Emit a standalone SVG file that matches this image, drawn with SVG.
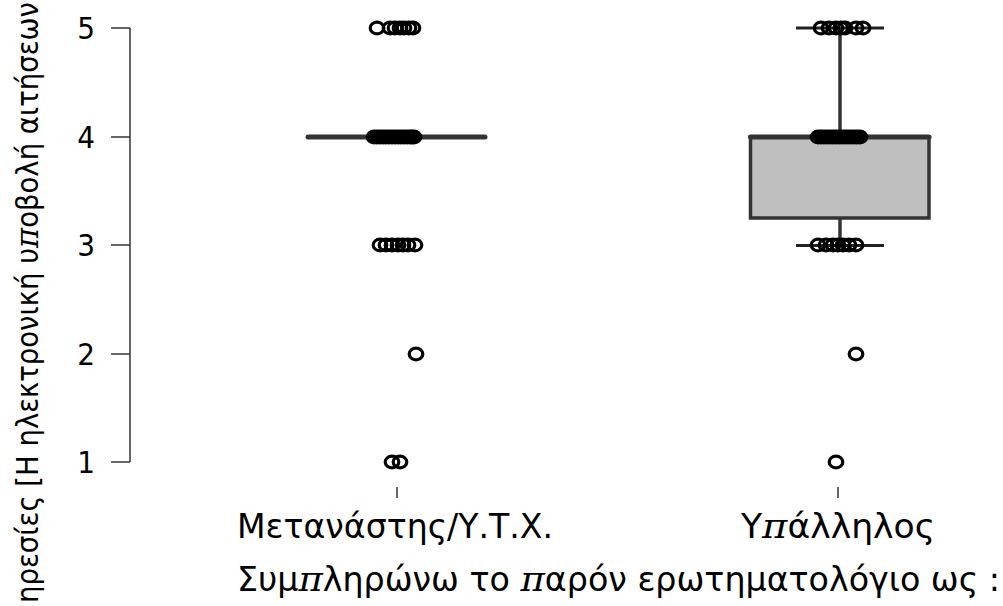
<svg xmlns="http://www.w3.org/2000/svg" width="1003" height="606" viewBox="0 0 1003 606">
<style>
.ax{stroke:#333;stroke-width:1.5;fill:none}
.wh{stroke:#333;stroke-width:3.5;fill:none}
.cap{stroke:#222;stroke-width:3;fill:none}
.med{stroke:#333;stroke-width:5;stroke-linecap:round;fill:none}
.box{fill:#bfbfbf;stroke:#333;stroke-width:3.5}
.pt{fill:none;stroke:#000;stroke-width:3.2}
.t{font-family:"DejaVu Sans Condensed","Liberation Sans Narrow","Liberation Sans",sans-serif;fill:#000}
.pi{font-family:"DejaVu Serif","Liberation Serif",serif;font-style:italic}
</style>
<defs>
<ellipse id="c" cx="0" cy="0" rx="6.8" ry="5.8" class="pt"/>
</defs>
<rect width="1003" height="606" fill="#fff"/>
<g id="y-axis">
<line class="ax" x1="130" y1="28" x2="130" y2="462"/>
<line class="ax" x1="111" y1="28" x2="130" y2="28"/>
<line class="ax" x1="111" y1="137" x2="130" y2="137"/>
<line class="ax" x1="111" y1="245" x2="130" y2="245"/>
<line class="ax" x1="111" y1="354" x2="130" y2="354"/>
<line class="ax" x1="111" y1="462" x2="130" y2="462"/>
<g class="t" font-size="31" text-anchor="end">
<text x="95" y="39">5</text>
<text x="95" y="148">4</text>
<text x="95" y="256">3</text>
<text x="95" y="365">2</text>
<text x="95" y="473">1</text>
</g>
</g>
<g id="x-axis">
<line class="ax" x1="397" y1="487" x2="397" y2="498"/>
<line class="ax" x1="838" y1="487" x2="838" y2="498"/>
<text class="t" font-size="33" x="237" y="538" textLength="316" lengthAdjust="spacingAndGlyphs">Μετανάστης/Υ.Τ.Χ.</text>
<text class="t" font-size="33" x="741" y="538" textLength="194" lengthAdjust="spacingAndGlyphs">Υ<tspan class="pi">π</tspan>άλληλος</text>
<text class="t" font-size="33" x="237" y="591" textLength="763" lengthAdjust="spacingAndGlyphs">Συμ<tspan class="pi">π</tspan>ληρώνω το <tspan class="pi">π</tspan>αρόν ερωτηματολόγιο ως :</text>
<text class="t" font-size="31" transform="translate(38,603) rotate(-90)" textLength="601" lengthAdjust="spacingAndGlyphs">ηρεσίες [Η ηλεκτρονική υ<tspan class="pi">π</tspan>οβολή αιτήσεων</text>
</g>
<g id="group-metanastis">
<line class="med" x1="308" y1="137" x2="485" y2="137"/>
</g>
<g id="group-ypallilos">
<line class="wh" x1="840" y1="28" x2="840" y2="137"/>
<line class="wh" x1="840" y1="218" x2="840" y2="245"/>
<line class="cap" x1="796" y1="28" x2="884" y2="28"/>
<line class="cap" x1="796" y1="245.5" x2="884" y2="245.5"/>
<rect class="box" x="750.5" y="137" width="178.5" height="81"/>
<line class="med" x1="750.5" y1="137" x2="929" y2="137" stroke-linecap="square"/>
</g>
<g id="points-metanastis">
<use href="#c" x="377" y="28"/><use href="#c" x="390" y="28"/><use href="#c" x="395" y="28"/><use href="#c" x="400" y="28"/><use href="#c" x="404" y="28"/><use href="#c" x="409" y="28"/><use href="#c" x="413" y="28"/>
<use href="#c" x="374" y="137"/><use href="#c" x="377" y="137"/><use href="#c" x="380" y="137"/><use href="#c" x="383" y="137"/><use href="#c" x="386" y="137"/><use href="#c" x="389" y="137"/><use href="#c" x="392" y="137"/><use href="#c" x="395" y="137"/><use href="#c" x="398" y="137"/><use href="#c" x="401" y="137"/><use href="#c" x="404" y="137"/><use href="#c" x="407" y="137"/><use href="#c" x="410" y="137"/><use href="#c" x="412" y="137"/><use href="#c" x="414" y="137"/>
<use href="#c" x="380" y="245"/><use href="#c" x="386" y="245"/><use href="#c" x="392" y="245"/><use href="#c" x="398" y="245"/><use href="#c" x="403" y="245"/><use href="#c" x="408" y="245"/><use href="#c" x="415" y="245"/>
<use href="#c" x="416" y="354"/>
<use href="#c" x="392" y="462"/><use href="#c" x="400" y="462"/>
</g>
<g id="points-ypallilos">
<use href="#c" x="821" y="28"/><use href="#c" x="829" y="28"/><use href="#c" x="836" y="28"/><use href="#c" x="841" y="28"/><use href="#c" x="845" y="28"/><use href="#c" x="856" y="28"/><use href="#c" x="863" y="28"/>
<use href="#c" x="818" y="137"/><use href="#c" x="821" y="137"/><use href="#c" x="824" y="137"/><use href="#c" x="827" y="137"/><use href="#c" x="830" y="137"/><use href="#c" x="833" y="137"/><use href="#c" x="836" y="137"/><use href="#c" x="839" y="137"/><use href="#c" x="842" y="137"/><use href="#c" x="845" y="137"/><use href="#c" x="848" y="137"/><use href="#c" x="851" y="137"/><use href="#c" x="854" y="137"/><use href="#c" x="857" y="137"/><use href="#c" x="860" y="137"/>
<use href="#c" x="818" y="245"/><use href="#c" x="826" y="245"/><use href="#c" x="833" y="245"/><use href="#c" x="838" y="245"/><use href="#c" x="843" y="245"/><use href="#c" x="849" y="245"/><use href="#c" x="856" y="245"/>
<use href="#c" x="856" y="354"/>
<use href="#c" x="836" y="462"/>
</g>
</svg>
